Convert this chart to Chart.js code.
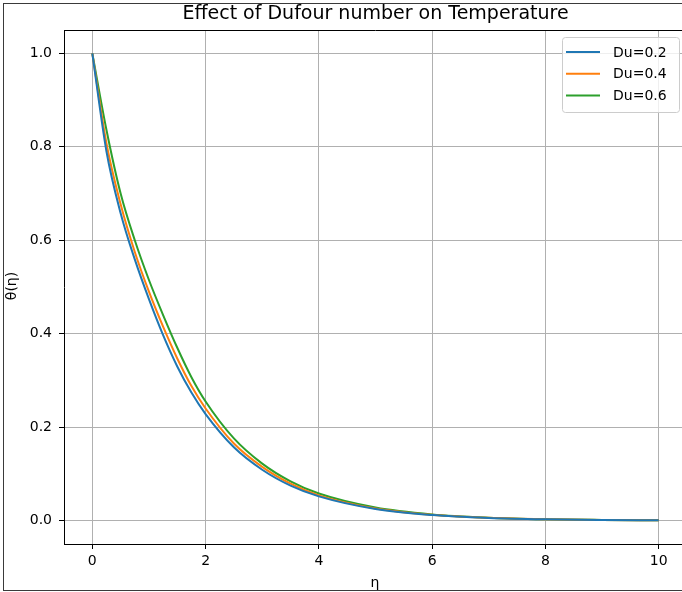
<!DOCTYPE html>
<html>
<head>
<meta charset="utf-8">
<script src="https://cdn.jsdelivr.net/npm/chart.js@4.4.1/dist/chart.umd.min.js"></script>
<style>
  html, body { margin: 0; padding: 0; background: #fff; overflow: hidden; }
  #wrap { position: relative; width: 682px; height: 592px; overflow: hidden; }
  #chart { position: absolute; left: 0; top: 0; }
  #frame { position: absolute; left: 3px; top: 3px; width: 700px; height: 586px; border: 1px solid #3a3a3a; pointer-events: none; }
</style>
</head>
<body>
<div id="wrap">
  <canvas id="chart" width="690" height="592"></canvas>
  <div id="frame"></div>
</div>
<script>
// eta values and theta(eta)
const eta = [0, 0.25, 0.5, 0.75, 1.0, 1.25, 1.5, 1.75, 2, 2.5, 3, 3.5, 4, 5, 6, 7, 8, 9, 10];
const du02 = [1.0, 0.79, 0.658, 0.559, 0.474, 0.397, 0.330, 0.274, 0.228, 0.157, 0.109, 0.075, 0.052, 0.025, 0.012, 0.0057, 0.0027, 0.0013, 0.0006];
const du04 = [1.0, 0.807, 0.677, 0.575, 0.49, 0.415, 0.347, 0.288, 0.240, 0.165, 0.115, 0.079, 0.054, 0.026, 0.0125, 0.006, 0.0029, 0.0014, 0.0007];
const du06 = [1.0, 0.836, 0.70, 0.60, 0.515, 0.44, 0.37, 0.307, 0.255, 0.176, 0.122, 0.084, 0.058, 0.028, 0.0133, 0.0064, 0.003, 0.0015, 0.0007];
const seriesLabels = ['Du=0.2', 'Du=0.4', 'Du=0.6'];
const xTicks = [0, 2, 4, 6, 8, 10];
const yTicks = [0.0, 0.2, 0.4, 0.6, 0.8, 1.0];

const colors = ['#1f77b4', '#ff7f0e', '#2ca02c'];
const FONT = 'DejaVu Sans';

function pts(ys) {
  return eta.map((x, i) => ({ x: x, y: ys[i] }));
}

// title, axis labels, top border and legend
const decor = {
  id: 'decor',
  afterDraw(chart) {
    const ctx = chart.ctx;
    const a = chart.chartArea;
    ctx.save();
    ctx.strokeStyle = '#000';
    ctx.lineWidth = 1;
    ctx.beginPath();
    ctx.moveTo(a.left, a.top + 0.5);
    ctx.lineTo(a.right, a.top + 0.5);
    ctx.stroke();

    ctx.fillStyle = '#000';
    ctx.textAlign = 'center';
    ctx.textBaseline = 'middle';
    ctx.font = '19px "' + FONT + '"';
    ctx.fillText('Effect of Dufour number on Temperature', 375.5, 14);
    ctx.font = '14px "' + FONT + '"';
    ctx.fillText('η', 375, 583);
    ctx.save();
    ctx.translate(12, 286);
    ctx.rotate(-Math.PI / 2);
    ctx.fillText('θ(η)', 0, 0);
    ctx.restore();

    // legend
    const lx = 562, ly = 37, lw = 117, lh = 75;
    ctx.beginPath();
    ctx.roundRect(lx + 0.5, ly + 0.5, lw, lh, 3);
    ctx.fillStyle = 'rgba(255,255,255,0.8)';
    ctx.fill();
    ctx.strokeStyle = '#cccccc';
    ctx.stroke();
    ctx.textAlign = 'left';
    ctx.font = '14px "' + FONT + '"';
    chart.data.datasets.forEach((ds, i) => {
      const y = 52 + i * 21.7;
      ctx.strokeStyle = ds.borderColor;
      ctx.lineWidth = 2;
      ctx.beginPath();
      ctx.moveTo(566, y);
      ctx.lineTo(600, y);
      ctx.stroke();
      ctx.fillStyle = '#000';
      ctx.fillText(ds.label, 613, y + 1);
    });
    ctx.restore();
  }
};

new Chart(document.getElementById('chart').getContext('2d'), {
  type: 'line',
  data: {
    datasets: [du02, du04, du06].map((ys, i) => ({
      label: seriesLabels[i],
      data: pts(ys),
      borderColor: colors[i],
      backgroundColor: colors[i],
      borderWidth: 2,
      pointRadius: 0,
      cubicInterpolationMode: 'monotone',
      fill: false
    }))
  },
  options: {
    responsive: false,
    devicePixelRatio: 1,
    animation: false,
    layout: { padding: { top: 30, right: 3, left: 0, bottom: 0 } },
    plugins: {
      legend: { display: false },
      title: { display: false },
      tooltip: { enabled: false }
    },
    scales: {
      x: {
        type: 'linear',
        min: -0.5,
        max: 10.5,
        afterBuildTicks: s => { s.ticks = xTicks.map(v => ({ value: v })); },
        afterFit: s => { s.height = 48; },
        grid: { color: '#b0b0b0', lineWidth: 1, tickLength: 5, tickColor: '#000' },
        border: { color: '#000', width: 1 },
        ticks: {
          color: '#000',
          padding: 4,
          maxRotation: 0,
          font: { family: FONT, size: 14 },
          callback: v => String(v)
        }
      },
      y: {
        min: -0.05,
        max: 1.05,
        afterBuildTicks: s => { s.ticks = yTicks.map(v => ({ value: v })); },
        afterFit: s => { s.width = 64; },
        grid: { color: '#b0b0b0', lineWidth: 1, tickLength: 5, tickColor: '#000' },
        border: { color: '#000', width: 1 },
        ticks: {
          color: '#000',
          padding: 7,
          font: { family: FONT, size: 14 },
          callback: v => v.toFixed(1)
        }
      }
    }
  },
  plugins: [decor]
});
</script>
</body>
</html>
